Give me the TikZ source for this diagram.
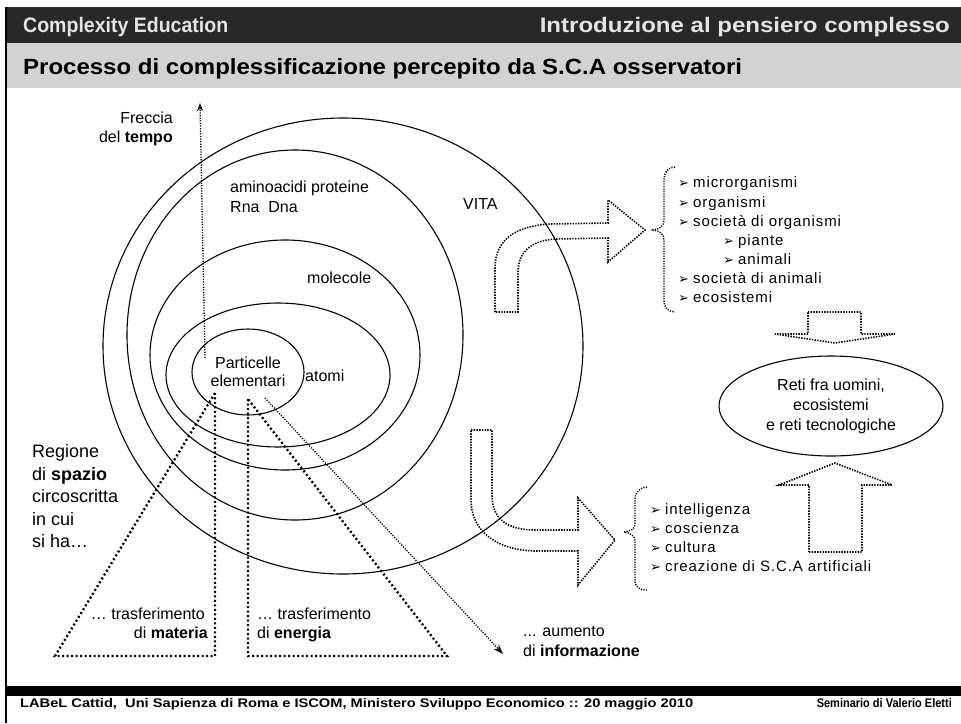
\documentclass[tikz,border=0pt]{standalone}
\usepackage{fontspec}
\usepackage{graphicx}
\setmainfont{Liberation Sans}
\newfontfamily\bulfont{DejaVu Sans}
\newfontfamily\listfont{Liberation Sans}[LetterSpace=6]
\usetikzlibrary{shapes.geometric,arrows.meta}
\definecolor{hdrdark}{HTML}{282828}
\definecolor{hdrgray}{HTML}{D2D2D2}
\definecolor{hdrtext}{HTML}{E4E4E4}
\newcommand{\wfit}[2]{\resizebox{#1}{\height}{#2}}
\newcommand{\bul}{\makebox[15pt][l]{\raisebox{-0.5pt}{\bulfont\fontsize{13}{13}\selectfont ➢}}}
\begin{document}
\begin{tikzpicture}[x=1pt,y=-1pt,
  ring/.style={draw, ellipse, inner sep=0pt, line width=1.1pt},
  lbl/.style={inner sep=0pt, font=\fontsize{16}{19}\selectfont},
  big/.style={inner sep=0pt, font=\fontsize{18}{23}\selectfont},
  dotline/.style={line width=1.6pt, dash pattern=on 1.4pt off 1.3pt},
  tridot/.style={line width=2.3pt, dash pattern=on 2pt off 2.5pt},
  thindot/.style={line width=1.3pt, dash pattern=on 1.2pt off 1.4pt},
  item/.style={anchor=base west, inner sep=0pt, font=\listfont\fontsize{15}{19}\selectfont},
  brace/.style={line width=1.4pt, dash pattern=on 1.2pt off 1.3pt}]
\useasboundingbox (0,0) rectangle (961,723);
\fill[white] (0,0) rectangle (961,723);
% header bands
\fill[hdrdark] (6,7) rectangle (961,43);
\fill[hdrgray] (6,43) rectangle (961,88);
\fill[black] (6,686) rectangle (961,696);
\draw[line width=2pt] (6,7) -- (6,723);
\node[anchor=base west, inner sep=0pt, text=hdrtext, font=\bfseries\fontsize{21}{21}\selectfont] (hl) at (23,32) {\wfit{205pt}{Complexity Education}};
\node[anchor=base east, inner sep=0pt, text=hdrtext, font=\bfseries\fontsize{21}{21}\selectfont] (hr) at (950,32) {\wfit{410pt}{Introduzione al pensiero complesso}};
\node[anchor=base west, inner sep=0pt, font=\bfseries\fontsize{22}{22}\selectfont] (title) at (23,74) {\wfit{719pt}{Processo di complessificazione percepito da S.C.A osservatori}};
\node[anchor=base west, inner sep=0pt, font=\bfseries\fontsize{12.5}{12.5}\selectfont] (fl) at (20,707) {\wfit{673pt}{LABeL Cattid,\ \ Uni Sapienza di Roma e ISCOM, Ministero Sviluppo Economico :: 20 maggio 2010}};
\node[anchor=base east, inner sep=0pt, font=\bfseries\fontsize{12.5}{12.5}\selectfont] (fr) at (952,707) {\wfit{135pt}{Seminario di Valerio Eletti}};
% nested regions
\node[ring, minimum width=480pt, minimum height=456pt] (vita) at (343,346) {};
\node[ring, minimum width=336pt, minimum height=370pt] (bio) at (295,335) {};
\node[ring, minimum width=270pt, minimum height=230pt] (mol) at (285,355) {};
\node[ring, minimum width=224pt, minimum height=144pt] (atom) at (278,375) {};
\node[ring, minimum width=112pt, minimum height=86pt, align=center, font=\fontsize{16}{19}\selectfont] (part) at (248,372) {Particelle\\[-0.5pt]elementari};
% labels in rings
\node[lbl, anchor=base east] (fr1) at (173,123) {Freccia};
\node[lbl, anchor=base east] (fr2) at (173,142) {del \textbf{tempo}};
\node[lbl, anchor=base west] (am1) at (230,192) {aminoacidi proteine};
\node[lbl, anchor=base west] (am2) at (230,212) {Rna\ \ Dna};
\node[lbl, anchor=base west] (vt) at (463,209) {VITA};
\node[lbl, anchor=base west] (mc) at (307,283) {molecole};
\node[lbl, anchor=base west] (at) at (305,381) {atomi};
% region text
\node[big, anchor=base west] (rg1) at (32,457) {Regione};
\node[big, anchor=base west] (rg2) at (32,480) {di \textbf{spazio}};
\node[big, anchor=base west] (rg3) at (32,502) {circoscritta};
\node[big, anchor=base west] (rg4) at (32,525) {in cui};
\node[big, anchor=base west] (rg5) at (32,547) {si ha…};
% time arrow
\coordinate (tbot) at (205,358);
\coordinate (ttop) at (200,103);
\draw[thindot, -{Stealth[length=8pt,width=6pt]}] (tbot) -- (ttop);
% triangles
\coordinate (ma) at (215,393);
\coordinate (mb) at (55,656);
\coordinate (mc2) at (215,656);
\draw[tridot] (ma) -- (mb) -- (mc2) -- cycle;
\coordinate (ea) at (248,399);
\coordinate (eb) at (248,656);
\coordinate (ec) at (447,656);
\draw[tridot] (ea) -- (eb) -- (ec) -- cycle;
\coordinate (ia) at (265,398);
\coordinate (ib) at (503,654);
\draw[thindot, -{Stealth[length=10pt,width=7pt]}] (ia) -- (ib);
\node[lbl, anchor=base east] (tm1) at (205,619) {… trasferimento};
\node[lbl, anchor=base east] (tm2) at (208,638) {di \textbf{materia}};
\node[lbl, anchor=base west] (te1) at (257,619) {… trasferimento};
\node[lbl, anchor=base west] (te2) at (257,638) {di \textbf{energia}};
\node[lbl, anchor=base west] (ti1) at (523,636) {... aumento};
\node[lbl, anchor=base west] (ti2) at (523,656) {di \textbf{informazione}};
% upper bent arrow
\draw[dotline] (495,312) -- (495,268) .. controls (495,240) and (515,226) .. (550,224) -- (608,223) -- (608,200) -- (645,230) -- (608,262) -- (608,238) -- (556,239) .. controls (532,240) and (518,252) .. (518,272) -- (518,312) -- cycle;
% brace 1 and list
\draw[brace] (675,167) .. controls (667,168) and (664,172) .. (664,182) -- (664,220) .. controls (664,226) and (660,229) .. (653,230) .. controls (660,231) and (664,234) .. (664,240) -- (664,300) .. controls (664,308) and (667,311) .. (675,312);
\node[item] (l1) at (678,187) {\bul microrganismi};
\node[item] (l2) at (678,207) {\bul organismi};
\node[item] (l3) at (678,226) {\bul società di organismi};
\node[item] (l4) at (723,245) {\bul piante};
\node[item] (l5) at (723,264) {\bul animali};
\node[item] (l6) at (678,283) {\bul società di animali};
\node[item] (l7) at (678,302) {\bul ecosistemi};
% down arrow
\draw[dotline] (808,312) -- (861,312) -- (861,334) -- (895,334) -- (835,343) -- (775,334) -- (808,334) -- cycle;
% networks ellipse
\node[ring, minimum width=224pt, minimum height=100pt, align=center, font=\fontsize{16}{20}\selectfont] (reti) at (831,406) {Reti fra uomini,\\ecosistemi\\e reti tecnologiche};
% up arrow
\draw[dotline] (809,552) -- (862,552) -- (862,485) -- (892,485) -- (835,463) -- (779,485) -- (809,485) -- cycle;
% lower bent arrow
\draw[dotline] (471,430) -- (492,430) -- (492,495) .. controls (492,518) and (506,530) .. (535,530) -- (578,530) -- (578,498) -- (615,540) -- (578,585) -- (578,551) -- (535,551) .. controls (495,550) and (471,530) .. (471,500) -- cycle;
% brace 2 and list
\draw[brace] (647,487) .. controls (639,488) and (635,492) .. (635,500) -- (635,524) .. controls (635,529) and (631,531) .. (624,532) .. controls (631,533) and (635,536) .. (635,541) -- (635,580) .. controls (635,587) and (639,590) .. (647,590);
\node[item] (m1) at (650,514) {\bul intelligenza};
\node[item] (m2) at (650,533) {\bul coscienza};
\node[item] (m3) at (650,552) {\bul cultura};
\node[item] (m4) at (650,571) {\bul creazione di S.C.A artificiali};
\end{tikzpicture}
\end{document}
